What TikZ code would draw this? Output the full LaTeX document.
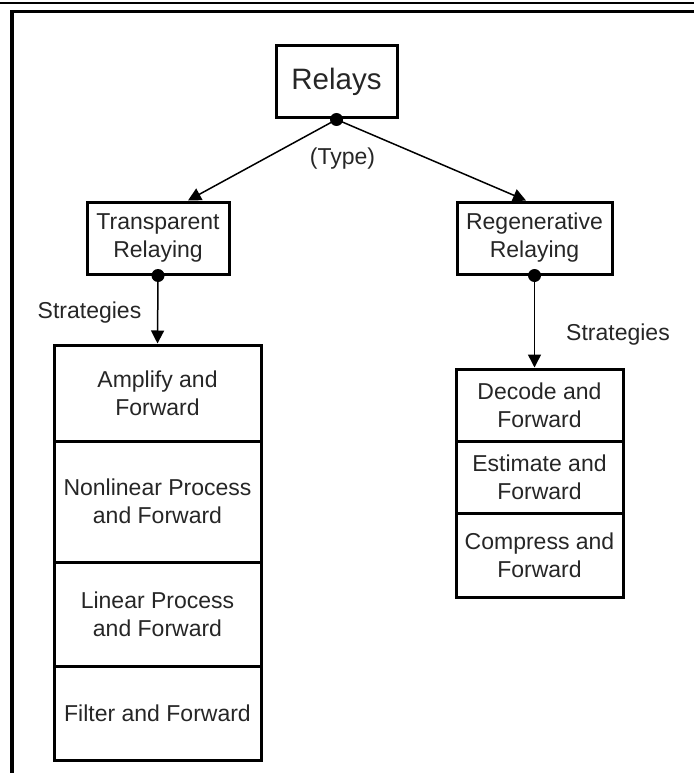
\documentclass[tikz,border=0pt]{standalone}
\usepackage{fontspec}
\setmainfont{Liberation Sans}
\usetikzlibrary{arrows.meta}
\begin{document}
\begin{tikzpicture}[x=1pt,y=-1pt,
  box/.style={draw, line width=3pt, align=center, inner sep=0pt,
    font=\fontsize{23}{28}\selectfont, text=black!85},
  lbl/.style={font=\fontsize{23}{28}\selectfont, text=black!85, inner sep=0pt},
  arr/.style={line width=1.5pt, -{Triangle[length=13pt,width=13pt]}},
  dot/.style={circle, fill=black, inner sep=0pt, minimum size=13pt}]
\useasboundingbox (0,0) rectangle (694,773);

% page frame
\draw[line width=1.5pt] (0,3) -- (694,3);
\draw[line width=3.2pt] (12,773) -- (12,11.5) -- (694,11.5);

% top level and relay types
\node[box, minimum width=121pt, minimum height=72pt,
  font=\fontsize{29.5}{34}\selectfont] (relays) at (336.5,82) {Relays};
\node[box, minimum width=142pt, minimum height=72pt] (trans) at (158,238)
  {Transparent\\Relaying};
\node[box, minimum width=155pt, minimum height=72pt] (regen) at (534.5,238)
  {Regenerative\\Relaying};

% transparent relaying strategies
\node[box, minimum width=207pt, minimum height=96pt]  (amp)  at (157.5,393)
  {Amplify and\\Forward};
\node[box, minimum width=207pt, minimum height=121pt] (nlp)  at (157.5,501.5)
  {Nonlinear Process\\and Forward};
\node[box, minimum width=207pt, minimum height=104pt] (lp)   at (157.5,614)
  {Linear Process\\and Forward};
\node[box, minimum width=207pt, minimum height=94pt]  (filt) at (157.5,713)
  {Filter and Forward};

% regenerative relaying strategies
\node[box, minimum width=167pt, minimum height=72pt] (dec)  at (539.5,405)
  {Decode and\\Forward};
\node[box, minimum width=167pt, minimum height=72pt] (est)  at (539.5,477)
  {Estimate and\\Forward};
\node[box, minimum width=167pt, minimum height=84pt] (comp) at (539.5,555)
  {Compress and\\Forward};

% labels
\node[lbl] (type)  at (342.5,159) {(Type)};
\node[lbl] (strl)  at (89.5,313)  {Strategies};
\node[lbl] (strr)  at (618,335)   {Strategies};

% connectors
\draw[arr] (relays.south) -- ([xshift=30pt]trans.north);
\draw[arr] (relays.south) -- ([xshift=-8.5pt]regen.north);
\draw[arr] (trans.south) -- (amp.north);
\draw[arr] (regen.south) -- (regen.south |- dec.north);

% junction dots
\node[dot] (d0) at (relays.south) {};
\node[dot] (d1) at (trans.south) {};
\node[dot] (d2) at (regen.south) {};
\end{tikzpicture}
\end{document}
